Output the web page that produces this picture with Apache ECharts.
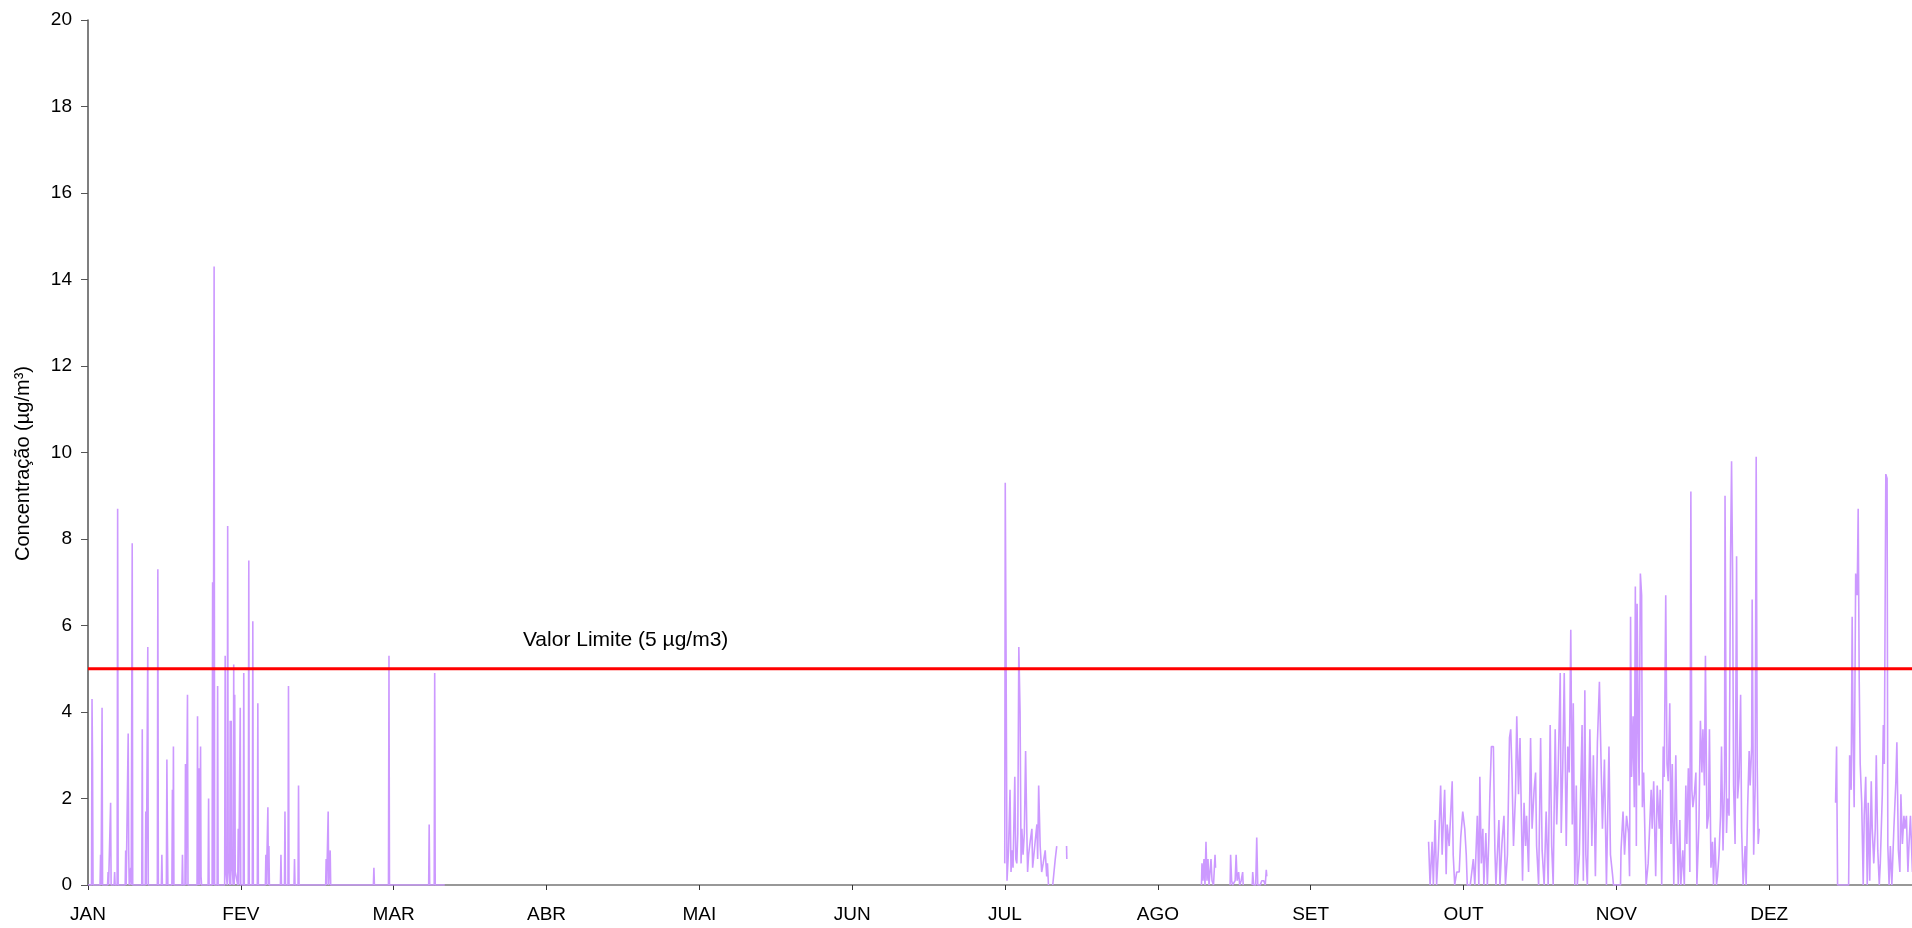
<!DOCTYPE html>
<html>
<head>
<meta charset="utf-8">
<script src="https://cdn.jsdelivr.net/npm/echarts@6/dist/echarts.min.js"></script>
<style>
  html, body { margin: 0; padding: 0; background: #fff; }
  #chart { width: 1912px; height: 928px; }
</style>
</head>
<body>
<div id="chart"></div>
<script>
// month tick labels (one every 365/12 days)
const months = ['JAN', 'FEV', 'MAR', 'ABR', 'MAI', 'JUN', 'JUL', 'AGO', 'SET', 'OUT', 'NOV', 'DEZ'];

// concentration readings, [day of year, µg/m3]; each array is one run of valid data
const janMar = [
  [0, 0], [0.7, 0], [0.8, 4.3], [0.9, 2.9], [1.0, 0],
  [2.4, 0], [2.5, 0.7], [2.6, 0], [2.7, 0], [2.8, 4.1], [2.9, 0],
  [3.9, 0], [4.0, 0.3], [4.1, 0], [4.4, 0], [4.5, 1.9], [4.6, 0],
  [5.2, 0], [5.3, 0.3], [5.4, 0], [5.8, 0], [5.9, 8.7], [6.0, 0],
  [7.4, 0], [7.5, 0.8], [7.6, 0], [7.9, 0], [8.0, 3.5], [8.1, 0.8], [8.2, 0],
  [8.4, 0], [8.5, 0.4], [8.6, 0], [8.7, 0], [8.8, 7.9], [8.9, 0],
  [10.7, 0], [10.8, 3.6], [10.9, 0], [11.4, 0], [11.5, 1.7], [11.6, 0], [11.8, 0], [11.9, 5.5], [12.0, 0],
  [13.8, 0], [13.9, 7.3], [14.0, 0], [14.6, 0], [14.7, 0.7], [14.8, 0],
  [15.6, 0], [15.7, 2.9], [15.8, 1.2], [15.9, 0],
  [16.7, 0], [16.8, 2.2], [16.9, 0], [17.0, 3.2], [17.1, 0],
  [18.7, 0], [18.8, 0.7], [18.9, 0], [19.3, 0], [19.4, 2.8], [19.5, 0], [19.7, 0], [19.8, 4.4], [19.9, 0],
  [21.7, 0], [21.8, 3.9], [21.9, 0], [22.0, 0], [22.1, 2.7], [22.2, 0], [22.3, 0], [22.4, 3.2], [22.5, 0.2], [22.6, 0],
  [23.9, 0], [24.0, 2.0], [24.1, 0], [24.7, 0], [24.8, 7.0], [24.9, 0], [25.0, 0], [25.1, 14.3], [25.2, 0],
  [25.7, 0], [25.8, 4.6], [25.9, 0],
  [27.2, 0], [27.3, 5.3], [27.4, 0.4], [27.7, 0], [27.8, 8.3], [27.9, 0.5],
  [28.2, 0], [28.3, 3.8], [28.4, 0], [28.5, 3.8], [28.6, 0.6], [28.9, 0], [29.0, 5.1], [29.1, 0],
  [29.2, 4.4], [29.3, 0.3], [29.8, 0], [29.9, 1.3], [30.0, 0], [30.2, 0], [30.3, 4.1], [30.4, 0],
  [30.9, 0], [31.0, 4.9], [31.1, 0], [31.9, 0], [32.0, 7.5], [32.1, 0],
  [32.7, 0], [32.8, 6.1], [32.9, 0], [33.7, 0], [33.8, 4.2], [33.9, 0],
  [35.3, 0], [35.4, 0.7], [35.5, 0], [35.7, 0], [35.8, 1.8], [35.9, 0], [36.0, 0.9], [36.1, 0],
  [38.3, 0], [38.4, 0.7], [38.5, 0], [39.1, 0], [39.2, 1.7], [39.3, 0], [39.8, 0], [39.9, 4.6], [40.0, 0],
  [41.0, 0], [41.1, 0.6], [41.2, 0], [41.8, 0], [41.9, 2.3], [42.0, 0],
  [47.3, 0], [47.4, 0.6], [47.5, 0], [47.7, 0], [47.8, 1.7], [47.9, 0], [48.1, 0], [48.2, 0.8], [48.3, 0],
  [56.8, 0], [56.9, 0.4], [57.0, 0], [59.8, 0], [59.9, 5.3], [60.0, 0],
  [67.8, 0], [67.9, 1.4], [68.0, 0], [68.9, 0], [69.0, 4.9], [69.1, 0], [71.0, 0]
];

const julA = [
  [182.45, 0.5], [182.55, 9.3], [182.7, 5.7], [182.9, 0.1], [183.2, 0.8], [183.5, 2.2], [183.7, 0.3],
  [183.9, 0.8], [184.1, 0.4], [184.45, 2.5], [184.65, 0.6], [184.85, 0.5], [185.05, 1.2], [185.25, 5.5],
  [185.5, 4.0], [185.7, 0.5], [185.85, 1.3], [186.1, 0.7], [186.35, 1.2], [186.6, 3.1], [186.85, 1.2],
  [187.0, 0.3], [187.2, 0.7], [187.5, 1.0], [187.85, 1.3], [188.0, 0.4], [188.2, 0.4], [188.5, 1.0],
  [188.85, 1.4], [189.0, 0.6], [189.2, 2.3], [189.5, 0.9], [189.8, 0.3], [190.1, 0.5], [190.5, 0.8],
  [190.8, 0.2], [190.95, 0.5], [191.15, 0]
];
const julB = [[192.0, 0], [192.5, 0.6], [192.8, 0.9]];
const julC = [[194.75, 0.9], [194.8, 0.6]];

const agoA = [
  [221.6, 0], [221.7, 0.5], [221.9, 0.1], [222.1, 0.6], [222.3, 0], [222.5, 1.0], [222.7, 0.1],
  [222.9, 0.6], [223.1, 0], [223.5, 0.6], [223.7, 0.1], [224.0, 0], [224.3, 0.7], [224.4, 0.4]
];
const agoB = [
  [227.3, 0], [227.4, 0.7], [227.6, 0.1], [227.8, 0], [228.3, 0.1], [228.5, 0.7], [228.7, 0.1],
  [229.0, 0.3], [229.2, 0], [229.5, 0.1], [229.8, 0.3], [229.9, 0]
];
const agoC = [
  [231.7, 0], [231.8, 0.3], [232.0, 0], [232.4, 0], [232.6, 1.1], [232.8, 0], [233.3, 0],
  [233.6, 0.1], [234.0, 0.1], [234.3, 0], [234.5, 0.35], [234.6, 0.2]
];

const outNov = [
  [266.8, 1.0], [267.1, 0], [267.5, 1.0], [267.75, 0], [268.1, 1.5], [268.4, 0], [268.75, 0.8],
  [269.2, 2.3], [269.5, 0.7], [269.75, 1.5], [270.0, 2.2], [270.3, 0.25], [270.5, 1.4], [270.9, 0.9],
  [271.1, 1.4], [271.5, 2.4], [271.7, 0.7], [272.0, 0], [272.4, 0.3], [272.9, 0.3], [273.2, 1.1],
  [273.6, 1.7], [274.0, 1.3], [274.3, 0.7], [274.5, 0], [275.1, 0], [275.7, 0.6], [276.0, 0],
  [276.5, 1.6], [276.8, 0], [277.0, 2.5], [277.3, 0.5], [277.6, 1.3], [277.8, 0], [278.2, 1.2],
  [278.5, 0], [278.8, 1.1], [279.0, 2.1], [279.3, 3.2], [279.7, 3.2], [280.0, 0.8], [280.2, 0],
  [280.8, 1.5], [281.0, 0], [281.4, 0.95], [281.8, 1.6], [282.1, 0], [282.5, 0.7], [282.9, 3.4],
  [283.15, 3.6], [283.4, 2.6], [283.7, 0.9], [284.1, 2.1], [284.35, 3.9], [284.7, 2.1], [285.0, 3.4],
  [285.3, 1.4], [285.5, 0.1], [285.8, 1.9], [286.1, 0.9], [286.3, 1.6], [286.7, 0.3], [287.1, 3.4],
  [287.4, 1.3], [287.8, 2.2], [288.1, 2.6], [288.3, 0.9], [288.7, 0], [289.1, 3.4], [289.4, 0.8],
  [289.8, 0], [290.2, 1.7], [290.6, 0], [291.0, 3.7], [291.3, 0.9], [291.6, 0], [292.0, 3.6],
  [292.3, 1.4], [292.6, 2.7], [293.0, 4.9], [293.2, 1.2], [293.5, 2.7], [293.8, 4.9], [294.2, 0.9],
  [294.5, 3.2], [294.8, 2.6], [295.1, 5.9], [295.4, 1.4], [295.6, 4.2], [295.9, 0], [296.2, 2.3],
  [296.4, 0], [296.8, 0.7], [297.35, 3.7], [297.6, 0.1], [297.9, 4.5], [298.1, 0.7], [298.4, 0],
  [298.9, 3.6], [299.3, 0.9], [299.6, 3.0], [300.0, 0.2], [300.4, 3.3], [300.8, 4.7],
  [301.4, 1.3], [301.8, 2.9], [302.2, 0], [302.7, 3.2], [303.0, 0.7], [303.4, 0.25], [303.6, 0],
  [305.0, 0], [305.1, 0.8], [305.5, 1.7], [305.8, 0.7], [306.2, 1.6], [306.6, 1.2], [306.8, 0.2],
  [307.0, 6.2], [307.2, 2.5], [307.5, 3.9], [307.75, 1.8], [307.95, 6.9], [308.15, 0.9], [308.3, 6.5],
  [308.55, 3.4], [308.7, 2.3], [308.95, 7.2], [309.2, 6.7], [309.35, 1.8], [309.6, 2.6], [309.9, 0.9],
  [310.1, 0], [310.5, 0.5], [311.1, 2.2], [311.3, 1.3], [311.6, 2.4], [312.0, 0.2], [312.3, 2.3],
  [312.7, 1.3], [312.9, 2.2], [313.2, 0], [313.5, 3.2], [313.7, 2.5], [314.0, 6.7], [314.25, 2.8],
  [314.5, 2.4], [314.8, 4.2], [315.05, 0.95], [315.3, 2.8], [315.6, 0], [316.0, 3.0], [316.2, 1.4],
  [316.5, 0], [316.8, 1.5], [317.0, 0], [317.4, 0.8], [317.7, 0], [318.0, 2.3], [318.2, 0.95],
  [318.5, 2.7], [318.8, 0.3], [319.0, 9.1], [319.2, 2.2], [319.4, 1.8], [319.7, 2.1], [320.0, 2.6],
  [320.2, 0], [320.6, 1.4], [320.9, 3.8], [321.2, 2.6], [321.4, 3.6], [321.7, 2.3], [321.9, 5.3],
  [322.2, 1.3], [322.5, 1.6], [322.7, 3.6], [323.0, 0.4], [323.3, 1.0], [323.5, 0], [323.8, 1.1],
  [324.1, 0], [324.3, 0.2], [324.6, 0.7], [324.9, 1.6], [325.1, 3.2], [325.4, 0.8], [325.7, 2.4],
  [325.8, 9.0], [326.1, 1.2], [326.3, 2.0], [326.6, 1.6], [326.9, 7.6], [327.1, 9.8], [327.3, 7.3],
  [327.5, 2.3], [327.8, 0.95], [328.1, 7.6], [328.3, 2.0], [328.6, 2.5], [328.9, 4.4], [329.1, 1.3],
  [329.4, 0], [329.8, 0.9], [330.0, 0], [330.3, 1.8], [330.6, 3.1], [330.8, 2.3], [331.1, 3.2],
  [331.2, 6.6], [331.5, 0.7], [331.8, 2.3], [332.0, 9.9], [332.2, 2.8], [332.4, 0.95], [332.6, 1.3]
];

const dez = [
  [347.8, 1.9], [348.0, 3.2], [348.2, 0], [350.4, 0], [350.6, 3.0], [350.9, 2.2], [351.1, 6.2],
  [351.3, 3.3], [351.5, 1.8], [351.8, 7.2], [352.1, 6.7], [352.3, 8.7], [352.5, 4.8], [352.7, 2.8],
  [353.0, 1.9], [353.3, 0], [353.5, 1.6], [353.8, 2.5], [354.1, 0], [354.3, 1.9], [354.6, 0.1],
  [354.9, 2.4], [355.1, 1.3], [355.4, 0.5], [355.7, 1.3], [355.9, 3.0], [356.2, 0.8], [356.5, 0],
  [356.7, 0.5], [357.1, 2.1], [357.3, 3.7], [357.5, 2.8], [357.8, 9.5], [358.05, 9.4], [358.2, 0.9],
  [358.45, 0], [358.7, 0.9], [359.0, 0], [359.4, 1.3], [359.8, 2.4], [360.0, 3.3], [360.3, 0.8],
  [360.6, 0.3], [360.8, 2.1], [361.1, 0.95], [361.4, 1.6], [361.6, 1.3], [361.9, 1.6], [362.2, 0.3],
  [362.4, 0.9], [362.7, 1.6], [363.1, 0.3], [363.5, 1.2], [364.0, 0.6], [364.5, 1.0], [365.0, 0.5]
];

// limit value line
const limitDays = [0, 365];
const limitValues = [5, 5];
const limitLabel = 'Valor Limite (5 µg/m3)';
const limitLabelDay = 107;

const runs = [janMar, julA, julB, julC, agoA, agoB, agoC, outNov, dez];

const chart = echarts.init(document.getElementById('chart'), null, {renderer: 'canvas'});
const font = '"Liberation Sans", Arial, sans-serif';
const monthLen = 365 / 12;

const series = runs.map(run => ({
  type: 'line',
  data: run,
  showSymbol: false,
  silent: true,
  z: 2,
  lineStyle: {color: '#cc99ff', width: 1.6}
}));

series.push({
  type: 'line',
  data: limitDays.map((d, i) => [d, limitValues[i]]),
  showSymbol: false,
  silent: true,
  z: 3,
  lineStyle: {color: '#ff0000', width: 3},
  markPoint: {
    symbol: 'circle',
    symbolSize: 0,
    silent: true,
    data: [{coord: [limitLabelDay, 5]}],
    label: {
      show: true,
      formatter: limitLabel,
      position: 'top',
      distance: 18,
      color: '#000',
      fontFamily: font,
      fontSize: 21
    }
  }
});

// the plot runs a little past the right edge of the page, as in the original
chart.setOption({
  animation: false,
  backgroundColor: '#fff',
  grid: {left: 88, top: 20, width: 1834, bottom: 43, outerBoundsMode: 'none', containLabel: false},
  xAxis: {
    type: 'value',
    min: 0,
    max: 365,
    interval: monthLen,
    splitLine: {show: false},
    axisLine: {show: true, lineStyle: {color: '#777', width: 1.5}},
    axisTick: {show: true, length: 5, lineStyle: {color: '#333'}},
    axisLabel: {
      margin: 20,
      color: '#000',
      fontFamily: font,
      fontSize: 19,
      formatter: v => months[Math.round(v / monthLen)] || ''
    }
  },
  yAxis: {
    type: 'value',
    min: 0,
    max: 20,
    interval: 2,
    name: 'Concentração (µg/m³)',
    nameLocation: 'middle',
    nameGap: 55,
    nameTextStyle: {color: '#000', fontFamily: font, fontSize: 20, padding: [0, 22, 0, 0]},
    splitLine: {show: false},
    axisLine: {show: true, lineStyle: {color: '#555', width: 1.5}},
    axisTick: {show: true, length: 7, lineStyle: {color: '#555'}},
    axisLabel: {margin: 16, color: '#000', fontFamily: font, fontSize: 19}
  },
  series
});
</script>
</body>
</html>
